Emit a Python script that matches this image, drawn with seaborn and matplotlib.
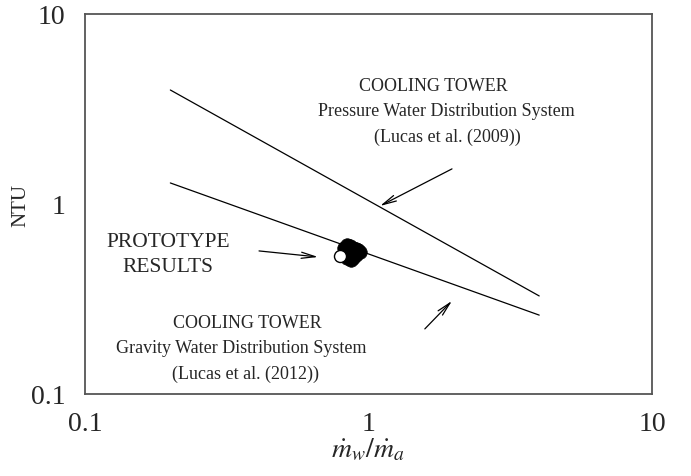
import matplotlib
matplotlib.use("Agg")
import matplotlib.pyplot as plt
import seaborn as sns
import pandas as pd

# Correlation lines (end points on log-log axes)
pressure_x = [0.2, 4.0]
pressure_ntu = [3.98, 0.328]
gravity_x = [0.2, 4.0]
gravity_ntu = [1.29, 0.26]

# Prototype measurements
proto_x = [0.82, 0.84, 0.86, 0.88, 0.90, 0.92, 0.83, 0.85, 0.87, 0.89,
           0.91, 0.86, 0.88, 0.84, 0.90, 0.93, 0.87, 0.85]
proto_ntu = [0.59, 0.61, 0.60, 0.59, 0.58, 0.57, 0.56, 0.57, 0.57, 0.56,
             0.55, 0.53, 0.52, 0.52, 0.54, 0.56, 0.51, 0.53]
proto_open_x = [0.793]
proto_open_ntu = [0.532]

sns.set_style("white")
plt.rcParams["font.family"] = ["Liberation Serif", "DejaVu Serif"]
plt.rcParams["mathtext.fontset"] = "stix"

fig = plt.figure(figsize=(6.91, 4.77), dpi=100)
ax = fig.add_axes([0.123, 0.172, 0.8206, 0.7966])

lines = pd.concat([
    pd.DataFrame({"x": pressure_x, "ntu": pressure_ntu, "sys": "pressure"}),
    pd.DataFrame({"x": gravity_x, "ntu": gravity_ntu, "sys": "gravity"}),
])
sns.lineplot(data=lines, x="x", y="ntu", units="sys", estimator=None,
             color="black", linewidth=0.9, ax=ax, legend=False)

sns.scatterplot(x=proto_x, y=proto_ntu, color="black", s=95,
                edgecolor="black", linewidth=0.5, ax=ax, zorder=3)
sns.scatterplot(x=proto_open_x, y=proto_open_ntu, color="white", s=75,
                edgecolor="black", linewidth=1.0, ax=ax, zorder=4)

ax.set_xscale("log")
ax.set_yscale("log")
ax.set_xlim(0.1, 10)
ax.set_ylim(0.1, 10)
ax.set_xticks([0.1, 1, 10])
ax.set_xticklabels(["0.1", "1", "10"])
ax.set_yticks([0.1, 1, 10])
ax.set_yticklabels(["0.1", "1", "10"])
ax.minorticks_off()
ax.tick_params(axis="x", direction="in", length=6, width=1, color="#555555",
               labelsize=20, pad=12)
ax.tick_params(axis="y", direction="out", length=6, width=1, color="#555555",
               labelsize=20, pad=8)
for sp in ax.spines.values():
    sp.set_color("#555555")
    sp.set_linewidth(1.3)

ax.set_xlabel(r"$\dot{m}_w/\dot{m}_a$", fontsize=20, labelpad=0)
ax.set_ylabel("NTU", fontsize=15)
ax.yaxis.set_label_coords(-0.097, 0.5)

fs = 13
ax.text(1.69, 4.18, "COOLING TOWER", ha="center", va="center", fontsize=fs)
ax.text(1.876, 3.09, "Pressure Water Distribution System", ha="center",
        va="center", fontsize=fs)
ax.text(1.89, 2.28, "(Lucas et al. (2009))", ha="center", va="center", fontsize=fs)
ax.text(0.196, 0.631, "PROTOTYPE", ha="center", va="center", fontsize=15.5)
ax.text(0.196, 0.466, "RESULTS", ha="center", va="center", fontsize=15.5)
ax.text(0.373, 0.239, "COOLING TOWER", ha="center", va="center", fontsize=fs)
ax.text(0.355, 0.175, "Gravity Water Distribution System", ha="center",
        va="center", fontsize=fs)
ax.text(0.367, 0.129, "(Lucas et al. (2012))", ha="center", va="center", fontsize=fs)

arrow = dict(arrowstyle="->,head_length=1.0,head_width=0.22", color="black",
             linewidth=0.9, shrinkA=0, shrinkB=0)
ax.annotate("", xy=(1.098, 0.976), xytext=(1.97, 1.53), arrowprops=arrow)
ax.annotate("", xy=(0.664, 0.526), xytext=(0.411, 0.566), arrowprops=arrow)
ax.annotate("", xy=(1.97, 0.309), xytext=(1.58, 0.22), arrowprops=arrow)

fig.savefig("out.png", dpi=100)
